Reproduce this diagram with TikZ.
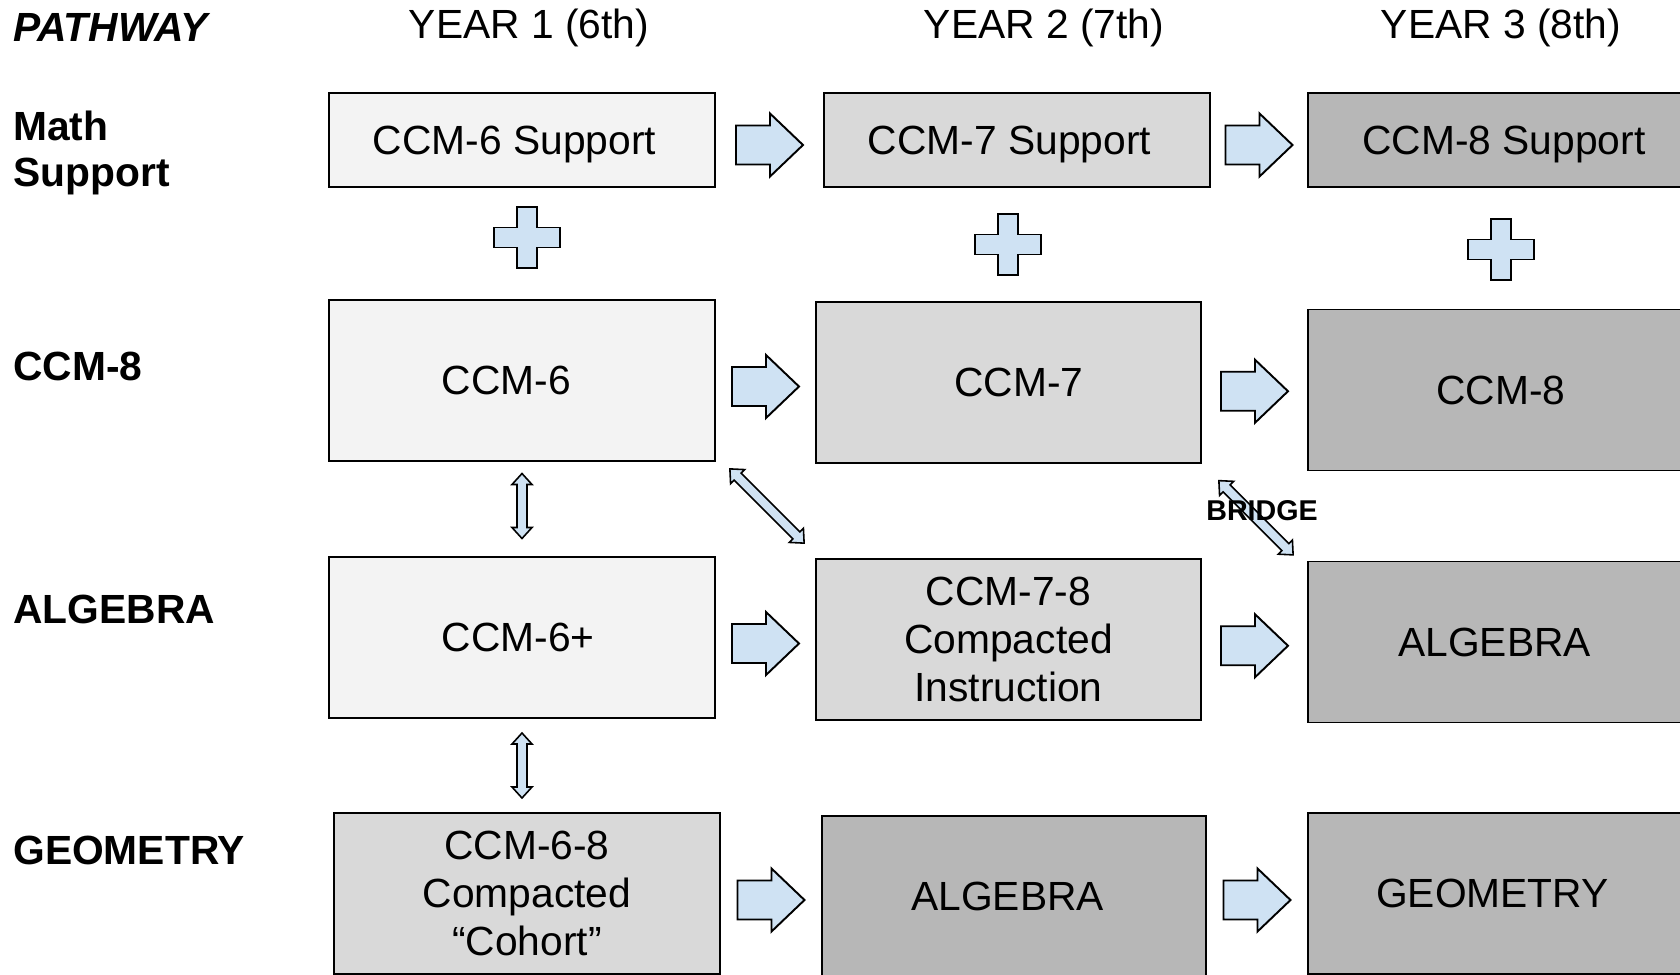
\documentclass[tikz,border=0pt]{standalone}
\usepackage{fontspec}
\setmainfont{Liberation Sans}
\usepackage{xcolor}
\usetikzlibrary{calc,positioning}
\definecolor{lightfill}{HTML}{F3F3F3}
\definecolor{midfill}{HTML}{D9D9D9}
\definecolor{darkfill}{HTML}{B7B7B7}
\definecolor{arrowfill}{HTML}{CFE2F3}
\tikzset{nudge/.style={execute at begin node={\hspace*{#1}}}}

\begin{document}
\begin{tikzpicture}[x=0.02cm,y=-0.02cm,
  nextyear/.pic={\draw[line width=1.1pt,fill=arrowfill,line join=miter] (-33.5,-19.5) -- (0.5,-19.5) -- (0.5,-31.5) -- (33.5,0)
    -- (0.5,31.5) -- (0.5,19.5) -- (-33.5,19.5) -- cycle;},
  updown/.pic={\draw[line width=0.9pt,fill=arrowfill] (-32.5,0) -- (-21.5,-10) -- (-21.5,-5) -- (21.5,-5) -- (21.5,-10)
    -- (32.5,0) -- (21.5,10) -- (21.5,5) -- (-21.5,5) -- (-21.5,10) -- cycle;},
  across/.pic={\draw[line width=0.9pt,fill=arrowfill] (-52.5,0) -- (-41.5,-10) -- (-41.5,-5) -- (41.5,-5) -- (41.5,-10)
    -- (52.5,0) -- (41.5,10) -- (41.5,5) -- (-41.5,5) -- (-41.5,10) -- cycle;},
  plussign/.pic={\draw[line width=1.1pt,fill=arrowfill] (-10,-30.5) -- (10,-30.5) -- (10,-10) -- (33,-10) -- (33,10) -- (10,10)
    -- (10,30.5) -- (-10,30.5) -- (-10,10) -- (-33,10) -- (-33,-10) -- (-10,-10) -- cycle;}]
  \tikzstyle{every node}=[font=\fontsize{23.2}{27.3}\selectfont]
  \tikzstyle{box}=[draw,line width=1.1pt,minimum width=7.72cm,minimum height=3.22cm,align=center,inner sep=2pt]
  \tikzstyle{thin box}=[box,minimum height=1.89cm,text depth=0pt]
  \tikzstyle{rowlabel}=[anchor=west,inner sep=0pt,align=left,font=\fontsize{23.2}{26.7}\selectfont\bfseries]
  \useasboundingbox (0,0) rectangle (1680,974);
  \clip (0,0) rectangle (1680,974);

  \node[anchor=west,inner sep=0pt,font=\fontsize{23.2}{27.3}\selectfont\bfseries\itshape] (pathway) at (13,27) {PATHWAY};
  \node (year1) at (529,28) {YEAR 1 (6th)};
  \node (year2) at (1044,28) {YEAR 2 (7th)};
  \node (year3) at (1501,28) {YEAR 3 (8th)};
  \node[rowlabel] (lmath) at (13,153) {Math\\Support};
  \node[rowlabel] (lccm8) at (13,366) {CCM-8};
  \node[rowlabel] (lalg) at (13,609) {ALGEBRA};
  \node[rowlabel] (lgeo) at (13,850) {GEOMETRY};

  \node[thin box,fill=lightfill,nudge=-8.5pt] (ccm6s) at (522,140) {CCM-6 Support};
  \node[thin box,fill=midfill,nudge=-8.5pt] (ccm7s) at (1017,140) {CCM-7 Support};
  \node[thin box,fill=darkfill,nudge=3.4pt] (ccm8s) at (1501,140) {CCM-8 Support};
  \node[box,fill=lightfill,nudge=-18pt] (ccm6) at (522,380.5) {CCM-6};
  \node[box,fill=midfill,minimum width=7.7cm,nudge=12pt] (ccm7) at (1008.5,382.5) {CCM-7};
  \node[box,fill=darkfill] (ccm8) at (1501,390) {CCM-8};
  \node[box,fill=lightfill,nudge=-4.5pt] (ccm6p) at (522,637.5) {CCM-6+};
  \node[box,fill=midfill,minimum width=7.7cm] (ccm78) at (1008.5,639.5) {CCM-7-8\\Compacted\\Instruction};
  \node[box,fill=darkfill,nudge=-7.3pt] (alg8) at (1501,642) {ALGEBRA};
  \node[box,fill=midfill] (ccm68) at (527,893.5) {CCM-6-8\\Compacted\\“Cohort”};
  \node[box,fill=darkfill,minimum width=7.68cm,nudge=-7.3pt] (alg7) at (1014,896.5) {ALGEBRA};
  \node[box,fill=darkfill,nudge=-9.8pt] (geo8) at (1501,893.5) {GEOMETRY};

  \foreach \from/\to in {ccm6s/ccm7s,ccm7s/ccm8s,ccm6/ccm7,ccm7/ccm8,ccm6p/ccm78,ccm78/alg8,ccm68/alg7,alg7/geo8}{
    \coordinate (\from-\to) at ($(\from.east)!0.5!(\to.west)+(0,5)$);
    \pic at (\from-\to) {nextyear};
  }

  \coordinate (plus6) at (527,237.5);
  \coordinate (plus7) at (1008,244.5);
  \coordinate (plus8) at (1501,249.5);
  \foreach \p in {plus6,plus7,plus8}
    \pic at (\p) {plussign};

  \coordinate (ccm6-ccm6p) at ($(ccm6.south)!0.5!(ccm6p.north)+(0,-3)$);
  \coordinate (ccm6p-ccm68) at ($(ccm6p.south)!0.5!(ccm68.north)+(-2.5,0)$);
  \coordinate (ccm6-ccm78) at ($(ccm6.south east)!0.5!(ccm78.north west)+(1.5,-4)$);
  \coordinate (ccm7-alg8) at ($(ccm7.south east)!0.5!(alg8.north west)+(1.5,5.5)$);
  \pic[rotate=90] at (ccm6-ccm6p) {updown};
  \pic[rotate=90] at (ccm6p-ccm68) {updown};
  \pic[rotate=-45] at (ccm6-ccm78) {across};
  \pic[rotate=-45] at (ccm7-alg8) {across};
  \node[inner sep=0pt,font=\fontsize{16.3}{19}\selectfont\bfseries] (bridge) at ($(ccm7-alg8)+(6,-7)$) {BRIDGE};
\end{tikzpicture}
\end{document}
